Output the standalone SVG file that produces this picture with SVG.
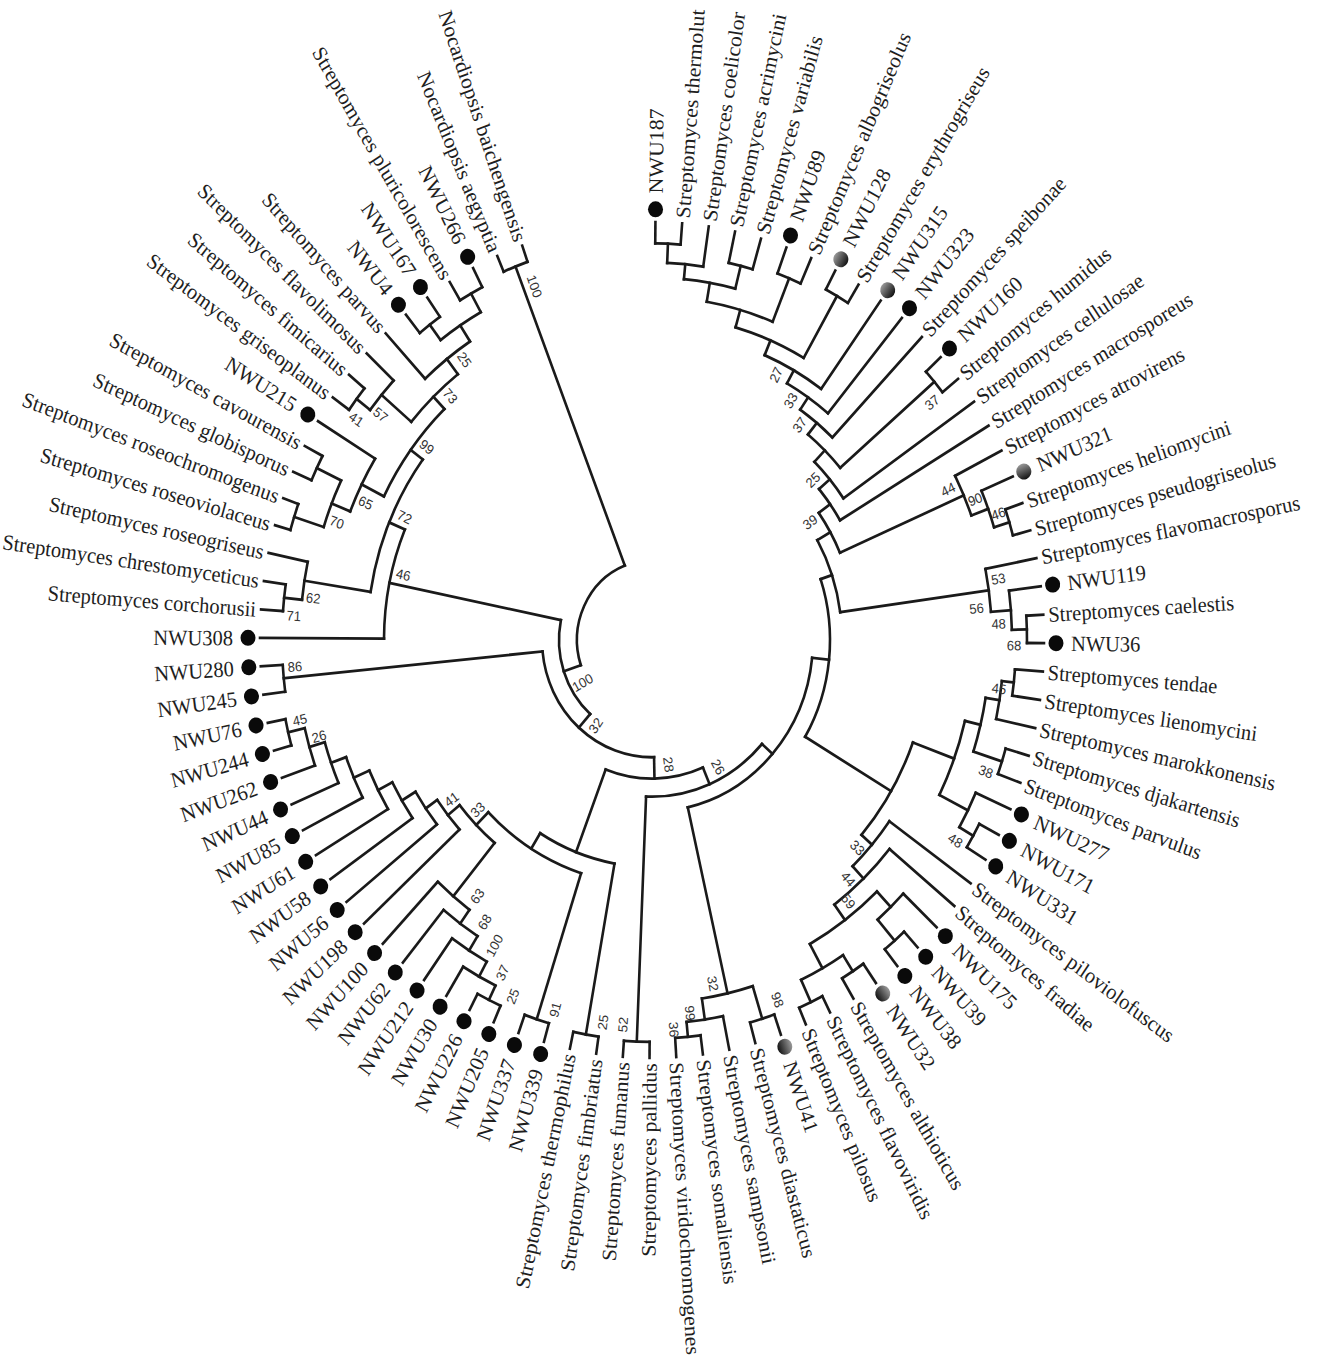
<svg xmlns="http://www.w3.org/2000/svg" width="1318" height="1366" viewBox="0 0 1318 1366">
<defs>
<linearGradient id="gr" x1="0" y1="0" x2="0" y2="1"><stop offset="0" stop-color="#9a9a9a"/><stop offset="0.5" stop-color="#555"/><stop offset="1" stop-color="#111"/></linearGradient>
</defs>
<style>
.b{fill:none;stroke:#1a1a1a;stroke-width:2.6;stroke-linecap:square}
.t{font-family:"Liberation Serif","Times New Roman",serif;font-size:20.5px;fill:#1e1e1e}
.e{text-anchor:end}
.s{font-family:"Liberation Sans",Arial,sans-serif;font-size:13px;fill:#333;text-anchor:middle}
.d{fill:#0a0a0a}
.g{fill:url(#gr)}
</style>
<rect width="1318" height="1366" fill="#fff"/>
<g transform="translate(652,640) scale(1,1.066)">
<g id="connectors" class="b">
<line x1="372" x2="392" transform="rotate(-89.5)"/><line x1="372" x2="392" transform="rotate(-85.59)"/>
<line x1="354" x2="372" transform="rotate(-87.545)"/><line x1="354" x2="392" transform="rotate(-81.68)"/>
<line x1="362" x2="392" transform="rotate(-77.77)"/><line x1="362" x2="392" transform="rotate(-73.86)"/>
<line x1="340" x2="354" transform="rotate(-84.61)"/><line x1="340" x2="362" transform="rotate(-75.815)"/>
<line x1="366" x2="392" transform="rotate(-69.95)"/><line x1="366" x2="392" transform="rotate(-66.04)"/>
<line x1="322" x2="340" transform="rotate(-80.21)"/><line x1="322" x2="366" transform="rotate(-67.995)"/>
<line x1="372" x2="392" transform="rotate(-62.13)"/><line x1="372" x2="392" transform="rotate(-58.22)"/>
<line x1="305" x2="322" transform="rotate(-74.1)"/><line x1="305" x2="372" transform="rotate(-60.175)"/>
<line x1="290" x2="305" transform="rotate(-67.14)"/><line x1="290" x2="392" transform="rotate(-54.31)"/>
<line x1="276" x2="290" transform="rotate(-60.72)"/><line x1="276" x2="392" transform="rotate(-50.4)"/>
<line x1="262" x2="276" transform="rotate(-55.56)"/><line x1="262" x2="392" transform="rotate(-46.49)"/>
<line x1="372" x2="392" transform="rotate(-42.58)"/><line x1="372" x2="392" transform="rotate(-38.67)"/>
<line x1="248" x2="262" transform="rotate(-51.03)"/><line x1="248" x2="372" transform="rotate(-40.63)"/>
<line x1="233" x2="248" transform="rotate(-45.83)"/><line x1="233" x2="392" transform="rotate(-34.76)"/>
<line x1="219" x2="233" transform="rotate(-40.3)"/><line x1="219" x2="392" transform="rotate(-30.85)"/>
<line x1="374" x2="392" transform="rotate(-19.12)"/><line x1="374" x2="392" transform="rotate(-15.21)"/>
<line x1="358" x2="392" transform="rotate(-23.03)"/><line x1="358" x2="374" transform="rotate(-17.165)"/>
<line x1="340" x2="392" transform="rotate(-26.94)"/><line x1="340" x2="358" transform="rotate(-20.1)"/>
<line x1="205" x2="219" transform="rotate(-35.57)"/><line x1="205" x2="340" transform="rotate(-23.52)"/>
<line x1="375" x2="392" transform="rotate(-3.48)"/><line x1="375" x2="392" transform="rotate(0.43)"/>
<line x1="360" x2="392" transform="rotate(-7.39)"/><line x1="360" x2="375" transform="rotate(-1.525)"/>
<line x1="340" x2="392" transform="rotate(-11.3)"/><line x1="340" x2="360" transform="rotate(-4.4575)"/>
<line x1="190" x2="205" transform="rotate(-29.545)"/><line x1="190" x2="340" transform="rotate(-7.879)"/>
<line x1="364" x2="392" transform="rotate(4.34)"/><line x1="364" x2="392" transform="rotate(8.25)"/>
<line x1="352" x2="364" transform="rotate(6.295)"/><line x1="352" x2="392" transform="rotate(12.16)"/>
<line x1="368" x2="392" transform="rotate(16.07)"/><line x1="368" x2="392" transform="rotate(19.98)"/>
<line x1="338" x2="352" transform="rotate(9.2275)"/><line x1="338" x2="368" transform="rotate(18.025)"/>
<line x1="370" x2="392" transform="rotate(27.8)"/><line x1="370" x2="392" transform="rotate(31.71)"/>
<line x1="354" x2="392" transform="rotate(23.89)"/><line x1="354" x2="370" transform="rotate(29.755)"/>
<line x1="322" x2="338" transform="rotate(13.626)"/><line x1="322" x2="354" transform="rotate(26.8225)"/>
<line x1="372" x2="392" transform="rotate(47.35)"/><line x1="372" x2="392" transform="rotate(51.26)"/>
<line x1="346" x2="392" transform="rotate(43.44)"/><line x1="346" x2="372" transform="rotate(49.305)"/>
<line x1="370" x2="392" transform="rotate(55.17)"/><line x1="370" x2="392" transform="rotate(59.08)"/>
<line x1="375" x2="392" transform="rotate(62.99)"/><line x1="375" x2="392" transform="rotate(66.9)"/>
<line x1="352" x2="370" transform="rotate(57.125)"/><line x1="352" x2="375" transform="rotate(64.945)"/>
<line x1="326" x2="346" transform="rotate(46.37)"/><line x1="326" x2="352" transform="rotate(61.035)"/>
<line x1="308" x2="392" transform="rotate(39.53)"/><line x1="308" x2="326" transform="rotate(53.7)"/>
<line x1="292" x2="392" transform="rotate(35.62)"/><line x1="292" x2="308" transform="rotate(46.615)"/>
<line x1="278" x2="322" transform="rotate(20.224)"/><line x1="278" x2="292" transform="rotate(41.12)"/>
<line x1="178" x2="190" transform="rotate(-18.71)"/><line x1="178" x2="278" transform="rotate(30.67)"/>
<line x1="374" x2="392" transform="rotate(82.54)"/><line x1="374" x2="392" transform="rotate(86.45)"/>
<line x1="360" x2="392" transform="rotate(78.63)"/><line x1="360" x2="374" transform="rotate(84.495)"/>
<line x1="372" x2="392" transform="rotate(70.81)"/><line x1="372" x2="392" transform="rotate(74.72)"/>
<line x1="340" x2="372" transform="rotate(72.765)"/><line x1="340" x2="360" transform="rotate(81.5625)"/>
<line x1="161" x2="178" transform="rotate(5.98)"/><line x1="161" x2="340" transform="rotate(77.16)"/>
<line x1="377" x2="392" transform="rotate(90.36)"/><line x1="377" x2="392" transform="rotate(94.27)"/>
<line x1="147" x2="161" transform="rotate(41.57)"/><line x1="147" x2="377" transform="rotate(92.315)"/>
<line x1="376" x2="392" transform="rotate(98.18)"/><line x1="376" x2="392" transform="rotate(102.09)"/>
<line x1="374" x2="392" transform="rotate(106)"/><line x1="374" x2="392" transform="rotate(109.91)"/>
<line x1="375" x2="392" transform="rotate(113.82)"/><line x1="375" x2="392" transform="rotate(117.73)"/>
<line x1="360" x2="375" transform="rotate(115.775)"/><line x1="360" x2="392" transform="rotate(121.64)"/>
<line x1="344" x2="360" transform="rotate(118.71)"/><line x1="344" x2="392" transform="rotate(125.55)"/>
<line x1="328" x2="344" transform="rotate(122.13)"/><line x1="328" x2="392" transform="rotate(129.46)"/>
<line x1="312" x2="328" transform="rotate(125.795)"/><line x1="312" x2="392" transform="rotate(133.37)"/>
<line x1="374" x2="392" transform="rotate(164.65)"/><line x1="374" x2="392" transform="rotate(168.56)"/>
<line x1="357" x2="392" transform="rotate(160.74)"/><line x1="357" x2="374" transform="rotate(166.605)"/>
<line x1="341" x2="392" transform="rotate(156.83)"/><line x1="341" x2="357" transform="rotate(163.67)"/>
<line x1="325" x2="392" transform="rotate(152.92)"/><line x1="325" x2="341" transform="rotate(160.25)"/>
<line x1="308" x2="392" transform="rotate(149.01)"/><line x1="308" x2="325" transform="rotate(156.585)"/>
<line x1="292" x2="392" transform="rotate(145.1)"/><line x1="292" x2="308" transform="rotate(152.8)"/>
<line x1="276" x2="392" transform="rotate(141.19)"/><line x1="276" x2="292" transform="rotate(148.95)"/>
<line x1="262" x2="392" transform="rotate(137.28)"/><line x1="262" x2="276" transform="rotate(145.07)"/>
<line x1="247" x2="312" transform="rotate(129.58)"/><line x1="247" x2="262" transform="rotate(141.175)"/>
<line x1="230" x2="374" transform="rotate(107.955)"/><line x1="230" x2="247" transform="rotate(135.38)"/>
<line x1="213" x2="376" transform="rotate(100.135)"/><line x1="213" x2="230" transform="rotate(121.67)"/>
<line x1="130" x2="147" transform="rotate(66.94)"/><line x1="130" x2="213" transform="rotate(110.9)"/>
<line x1="370" x2="392" transform="rotate(172.47)"/><line x1="370" x2="392" transform="rotate(176.38)"/>
<line x1="110" x2="130" transform="rotate(88.92)"/><line x1="110" x2="370" transform="rotate(174.425)"/>
<line x1="370" x2="392" transform="rotate(184.2)"/><line x1="370" x2="392" transform="rotate(188.11)"/>
<line x1="352" x2="370" transform="rotate(186.155)"/><line x1="352" x2="392" transform="rotate(192.02)"/>
<line x1="376" x2="392" transform="rotate(195.93)"/><line x1="376" x2="392" transform="rotate(199.84)"/>
<line x1="372" x2="392" transform="rotate(203.75)"/><line x1="372" x2="392" transform="rotate(207.66)"/>
<line x1="345" x2="376" transform="rotate(197.885)"/><line x1="345" x2="372" transform="rotate(205.705)"/>
<line x1="325" x2="345" transform="rotate(201.795)"/><line x1="325" x2="392" transform="rotate(211.57)"/>
<line x1="372" x2="392" transform="rotate(215.48)"/><line x1="372" x2="392" transform="rotate(219.39)"/>
<line x1="355" x2="372" transform="rotate(217.435)"/><line x1="355" x2="392" transform="rotate(223.3)"/>
<line x1="370" x2="392" transform="rotate(231.12)"/><line x1="370" x2="392" transform="rotate(235.03)"/>
<line x1="372" x2="392" transform="rotate(238.94)"/><line x1="372" x2="392" transform="rotate(242.85)"/>
<line x1="352" x2="370" transform="rotate(233.075)"/><line x1="352" x2="372" transform="rotate(240.895)"/>
<line x1="334" x2="392" transform="rotate(227.21)"/><line x1="334" x2="352" transform="rotate(236.985)"/>
<line x1="316" x2="355" transform="rotate(220.37)"/><line x1="316" x2="334" transform="rotate(232.1)"/>
<line x1="300" x2="325" transform="rotate(206.68)"/><line x1="300" x2="316" transform="rotate(226.235)"/>
<line x1="285" x2="352" transform="rotate(189.09)"/><line x1="285" x2="300" transform="rotate(216.46)"/>
<line x1="268" x2="392" transform="rotate(180.29)"/><line x1="268" x2="285" transform="rotate(202.775)"/>
<line x1="93" x2="110" transform="rotate(131.67)"/><line x1="93" x2="268" transform="rotate(191.53)"/>
<line x1="376" x2="392" transform="rotate(246.76)"/><line x1="376" x2="392" transform="rotate(250.67)"/>
<line x1="75" x2="93" transform="rotate(161.6)"/><line x1="75" x2="376" transform="rotate(248.715)"/>
<circle r="372" pathLength="360" stroke-dasharray="3.91 360" transform="rotate(-89.5)"/>
<circle r="354" pathLength="360" stroke-dasharray="5.865 360" transform="rotate(-87.545)"/>
<circle r="362" pathLength="360" stroke-dasharray="3.91 360" transform="rotate(-77.77)"/>
<circle r="340" pathLength="360" stroke-dasharray="8.795 360" transform="rotate(-84.61)"/>
<circle r="366" pathLength="360" stroke-dasharray="3.91 360" transform="rotate(-69.95)"/>
<circle r="322" pathLength="360" stroke-dasharray="12.215 360" transform="rotate(-80.21)"/>
<circle r="372" pathLength="360" stroke-dasharray="3.91 360" transform="rotate(-62.13)"/>
<circle r="305" pathLength="360" stroke-dasharray="13.925 360" transform="rotate(-74.1)"/>
<circle r="290" pathLength="360" stroke-dasharray="12.83 360" transform="rotate(-67.14)"/>
<circle r="276" pathLength="360" stroke-dasharray="10.32 360" transform="rotate(-60.72)"/>
<circle r="262" pathLength="360" stroke-dasharray="9.07 360" transform="rotate(-55.56)"/>
<circle r="372" pathLength="360" stroke-dasharray="3.91 360" transform="rotate(-42.58)"/>
<circle r="248" pathLength="360" stroke-dasharray="10.4 360" transform="rotate(-51.03)"/>
<circle r="233" pathLength="360" stroke-dasharray="11.07 360" transform="rotate(-45.83)"/>
<circle r="219" pathLength="360" stroke-dasharray="9.45 360" transform="rotate(-40.3)"/>
<circle r="374" pathLength="360" stroke-dasharray="3.91 360" transform="rotate(-19.12)"/>
<circle r="358" pathLength="360" stroke-dasharray="5.865 360" transform="rotate(-23.03)"/>
<circle r="340" pathLength="360" stroke-dasharray="6.84 360" transform="rotate(-26.94)"/>
<circle r="205" pathLength="360" stroke-dasharray="12.05 360" transform="rotate(-35.57)"/>
<circle r="375" pathLength="360" stroke-dasharray="3.91 360" transform="rotate(-3.48)"/>
<circle r="360" pathLength="360" stroke-dasharray="5.865 360" transform="rotate(-7.39)"/>
<circle r="340" pathLength="360" stroke-dasharray="6.8425 360" transform="rotate(-11.3)"/>
<circle r="190" pathLength="360" stroke-dasharray="21.666 360" transform="rotate(-29.545)"/>
<circle r="364" pathLength="360" stroke-dasharray="3.91 360" transform="rotate(4.34)"/>
<circle r="352" pathLength="360" stroke-dasharray="5.865 360" transform="rotate(6.295)"/>
<circle r="368" pathLength="360" stroke-dasharray="3.91 360" transform="rotate(16.07)"/>
<circle r="338" pathLength="360" stroke-dasharray="8.7975 360" transform="rotate(9.2275)"/>
<circle r="370" pathLength="360" stroke-dasharray="3.91 360" transform="rotate(27.8)"/>
<circle r="354" pathLength="360" stroke-dasharray="5.865 360" transform="rotate(23.89)"/>
<circle r="322" pathLength="360" stroke-dasharray="13.1965 360" transform="rotate(13.626)"/>
<circle r="372" pathLength="360" stroke-dasharray="3.91 360" transform="rotate(47.35)"/>
<circle r="346" pathLength="360" stroke-dasharray="5.865 360" transform="rotate(43.44)"/>
<circle r="370" pathLength="360" stroke-dasharray="3.91 360" transform="rotate(55.17)"/>
<circle r="375" pathLength="360" stroke-dasharray="3.91 360" transform="rotate(62.99)"/>
<circle r="352" pathLength="360" stroke-dasharray="7.82 360" transform="rotate(57.125)"/>
<circle r="326" pathLength="360" stroke-dasharray="14.665 360" transform="rotate(46.37)"/>
<circle r="308" pathLength="360" stroke-dasharray="14.17 360" transform="rotate(39.53)"/>
<circle r="292" pathLength="360" stroke-dasharray="10.995 360" transform="rotate(35.62)"/>
<circle r="278" pathLength="360" stroke-dasharray="20.896 360" transform="rotate(20.224)"/>
<circle r="178" pathLength="360" stroke-dasharray="49.38 360" transform="rotate(-18.71)"/>
<circle r="374" pathLength="360" stroke-dasharray="3.91 360" transform="rotate(82.54)"/>
<circle r="360" pathLength="360" stroke-dasharray="5.865 360" transform="rotate(78.63)"/>
<circle r="372" pathLength="360" stroke-dasharray="3.91 360" transform="rotate(70.81)"/>
<circle r="340" pathLength="360" stroke-dasharray="8.7975 360" transform="rotate(72.765)"/>
<circle r="161" pathLength="360" stroke-dasharray="71.18 360" transform="rotate(5.98)"/>
<circle r="377" pathLength="360" stroke-dasharray="3.91 360" transform="rotate(90.36)"/>
<circle r="147" pathLength="360" stroke-dasharray="50.745 360" transform="rotate(41.57)"/>
<circle r="376" pathLength="360" stroke-dasharray="3.91 360" transform="rotate(98.18)"/>
<circle r="374" pathLength="360" stroke-dasharray="3.91 360" transform="rotate(106)"/>
<circle r="375" pathLength="360" stroke-dasharray="3.91 360" transform="rotate(113.82)"/>
<circle r="360" pathLength="360" stroke-dasharray="5.865 360" transform="rotate(115.775)"/>
<circle r="344" pathLength="360" stroke-dasharray="6.84 360" transform="rotate(118.71)"/>
<circle r="328" pathLength="360" stroke-dasharray="7.33 360" transform="rotate(122.13)"/>
<circle r="312" pathLength="360" stroke-dasharray="7.575 360" transform="rotate(125.795)"/>
<circle r="374" pathLength="360" stroke-dasharray="3.91 360" transform="rotate(164.65)"/>
<circle r="357" pathLength="360" stroke-dasharray="5.865 360" transform="rotate(160.74)"/>
<circle r="341" pathLength="360" stroke-dasharray="6.84 360" transform="rotate(156.83)"/>
<circle r="325" pathLength="360" stroke-dasharray="7.33 360" transform="rotate(152.92)"/>
<circle r="308" pathLength="360" stroke-dasharray="7.575 360" transform="rotate(149.01)"/>
<circle r="292" pathLength="360" stroke-dasharray="7.7 360" transform="rotate(145.1)"/>
<circle r="276" pathLength="360" stroke-dasharray="7.76 360" transform="rotate(141.19)"/>
<circle r="262" pathLength="360" stroke-dasharray="7.79 360" transform="rotate(137.28)"/>
<circle r="247" pathLength="360" stroke-dasharray="11.595 360" transform="rotate(129.58)"/>
<circle r="230" pathLength="360" stroke-dasharray="27.425 360" transform="rotate(107.955)"/>
<circle r="213" pathLength="360" stroke-dasharray="21.535 360" transform="rotate(100.135)"/>
<circle r="130" pathLength="360" stroke-dasharray="43.96 360" transform="rotate(66.94)"/>
<circle r="370" pathLength="360" stroke-dasharray="3.91 360" transform="rotate(172.47)"/>
<circle r="110" pathLength="360" stroke-dasharray="85.505 360" transform="rotate(88.92)"/>
<circle r="370" pathLength="360" stroke-dasharray="3.91 360" transform="rotate(184.2)"/>
<circle r="352" pathLength="360" stroke-dasharray="5.865 360" transform="rotate(186.155)"/>
<circle r="376" pathLength="360" stroke-dasharray="3.91 360" transform="rotate(195.93)"/>
<circle r="372" pathLength="360" stroke-dasharray="3.91 360" transform="rotate(203.75)"/>
<circle r="345" pathLength="360" stroke-dasharray="7.82 360" transform="rotate(197.885)"/>
<circle r="325" pathLength="360" stroke-dasharray="9.775 360" transform="rotate(201.795)"/>
<circle r="372" pathLength="360" stroke-dasharray="3.91 360" transform="rotate(215.48)"/>
<circle r="355" pathLength="360" stroke-dasharray="5.865 360" transform="rotate(217.435)"/>
<circle r="370" pathLength="360" stroke-dasharray="3.91 360" transform="rotate(231.12)"/>
<circle r="372" pathLength="360" stroke-dasharray="3.91 360" transform="rotate(238.94)"/>
<circle r="352" pathLength="360" stroke-dasharray="7.82 360" transform="rotate(233.075)"/>
<circle r="334" pathLength="360" stroke-dasharray="9.775 360" transform="rotate(227.21)"/>
<circle r="316" pathLength="360" stroke-dasharray="11.73 360" transform="rotate(220.37)"/>
<circle r="300" pathLength="360" stroke-dasharray="19.555 360" transform="rotate(206.68)"/>
<circle r="285" pathLength="360" stroke-dasharray="27.37 360" transform="rotate(189.09)"/>
<circle r="268" pathLength="360" stroke-dasharray="22.485 360" transform="rotate(180.29)"/>
<circle r="93" pathLength="360" stroke-dasharray="59.86 360" transform="rotate(131.67)"/>
<circle r="376" pathLength="360" stroke-dasharray="3.91 360" transform="rotate(246.76)"/>
<circle r="75" pathLength="360" stroke-dasharray="87.115 360" transform="rotate(161.6)"/>
</g>
<g id="leaves">
<g id="leaf-NWU187"><circle class="d" cx="404" r="7.5" transform="rotate(-89.5)"/><text class="t" transform="rotate(-89.5) translate(419,0)" dy=".35em">NWU187</text></g>
<g id="leaf-thermolut"><text class="t" transform="rotate(-85.59) translate(397,0)" dy=".35em">Streptomyces thermolut</text></g>
<g id="leaf-coelicolor"><text class="t" transform="rotate(-81.68) translate(397,0)" dy=".35em">Streptomyces coelicolor</text></g>
<g id="leaf-acrimycini"><text class="t" transform="rotate(-77.77) translate(397,0)" dy=".35em">Streptomyces acrimycini</text></g>
<g id="leaf-variabilis"><text class="t" transform="rotate(-73.86) translate(397,0)" dy=".35em">Streptomyces variabilis</text></g>
<g id="leaf-NWU89"><circle class="d" cx="404" r="7.5" transform="rotate(-69.95)"/><text class="t" transform="rotate(-69.95) translate(419,0)" dy=".35em">NWU89</text></g>
<g id="leaf-albogriseolus"><text class="t" transform="rotate(-66.04) translate(397,0)" dy=".35em">Streptomyces albogriseolus</text></g>
<g id="leaf-NWU128"><circle class="g" cx="404" r="7.5" transform="rotate(-62.13)"/><text class="t" transform="rotate(-62.13) translate(419,0)" dy=".35em">NWU128</text></g>
<g id="leaf-erythrogriseus"><text class="t" transform="rotate(-58.22) translate(397,0)" dy=".35em">Streptomyces erythrogriseus</text></g>
<g id="leaf-NWU315"><circle class="g" cx="404" r="7.5" transform="rotate(-54.31)"/><text class="t" transform="rotate(-54.31) translate(419,0)" dy=".35em">NWU315</text></g>
<g id="leaf-NWU323"><circle class="d" cx="404" r="7.5" transform="rotate(-50.4)"/><text class="t" transform="rotate(-50.4) translate(419,0)" dy=".35em">NWU323</text></g>
<g id="leaf-speibonae"><text class="t" transform="rotate(-46.49) translate(397,0)" dy=".35em">Streptomyces speibonae</text></g>
<g id="leaf-NWU160"><circle class="d" cx="404" r="7.5" transform="rotate(-42.58)"/><text class="t" transform="rotate(-42.58) translate(419,0)" dy=".35em">NWU160</text></g>
<g id="leaf-humidus"><text class="t" transform="rotate(-38.67) translate(397,0)" dy=".35em">Streptomyces humidus</text></g>
<g id="leaf-cellulosae"><text class="t" transform="rotate(-34.76) translate(397,0)" dy=".35em">Streptomyces cellulosae</text></g>
<g id="leaf-macrosporeus"><text class="t" transform="rotate(-30.85) translate(397,0)" dy=".35em">Streptomyces macrosporeus</text></g>
<g id="leaf-atrovirens"><text class="t" transform="rotate(-26.94) translate(397,0)" dy=".35em">Streptomyces atrovirens</text></g>
<g id="leaf-NWU321"><circle class="g" cx="404" r="7.5" transform="rotate(-23.03)"/><text class="t" transform="rotate(-23.03) translate(419,0)" dy=".35em">NWU321</text></g>
<g id="leaf-heliomycini"><text class="t" transform="rotate(-19.12) translate(397,0)" dy=".35em">Streptomyces heliomycini</text></g>
<g id="leaf-pseudogriseolus"><text class="t" transform="rotate(-15.21) translate(397,0)" dy=".35em">Streptomyces pseudogriseolus</text></g>
<g id="leaf-flavomacrosporus"><text class="t" transform="rotate(-11.3) translate(397,0)" dy=".35em">Streptomyces flavomacrosporus</text></g>
<g id="leaf-NWU119"><circle class="d" cx="404" r="7.5" transform="rotate(-7.39)"/><text class="t" transform="rotate(-7.39) translate(419,0)" dy=".35em">NWU119</text></g>
<g id="leaf-caelestis"><text class="t" transform="rotate(-3.48) translate(397,0)" dy=".35em">Streptomyces caelestis</text></g>
<g id="leaf-NWU36"><circle class="d" cx="404" r="7.5" transform="rotate(0.43)"/><text class="t" transform="rotate(0.43) translate(419,0)" dy=".35em">NWU36</text></g>
<g id="leaf-tendae"><text class="t" transform="rotate(4.34) translate(397,0)" dy=".35em">Streptomyces tendae</text></g>
<g id="leaf-lienomycini"><text class="t" transform="rotate(8.25) translate(397,0)" dy=".35em">Streptomyces lienomycini</text></g>
<g id="leaf-marokkonensis"><text class="t" transform="rotate(12.16) translate(397,0)" dy=".35em">Streptomyces marokkonensis</text></g>
<g id="leaf-djakartensis"><text class="t" transform="rotate(16.07) translate(397,0)" dy=".35em">Streptomyces djakartensis</text></g>
<g id="leaf-parvulus"><text class="t" transform="rotate(19.98) translate(397,0)" dy=".35em">Streptomyces parvulus</text></g>
<g id="leaf-NWU277"><circle class="d" cx="404" r="7.5" transform="rotate(23.89)"/><text class="t" transform="rotate(23.89) translate(419,0)" dy=".35em">NWU277</text></g>
<g id="leaf-NWU171"><circle class="d" cx="404" r="7.5" transform="rotate(27.8)"/><text class="t" transform="rotate(27.8) translate(419,0)" dy=".35em">NWU171</text></g>
<g id="leaf-NWU331"><circle class="d" cx="404" r="7.5" transform="rotate(31.71)"/><text class="t" transform="rotate(31.71) translate(419,0)" dy=".35em">NWU331</text></g>
<g id="leaf-piloviolofuscus"><text class="t" transform="rotate(35.62) translate(397,0)" dy=".35em">Streptomyces piloviolofuscus</text></g>
<g id="leaf-fradiae"><text class="t" transform="rotate(39.53) translate(397,0)" dy=".35em">Streptomyces fradiae</text></g>
<g id="leaf-NWU175"><circle class="d" cx="404" r="7.5" transform="rotate(43.44)"/><text class="t" transform="rotate(43.44) translate(419,0)" dy=".35em">NWU175</text></g>
<g id="leaf-NWU39"><circle class="d" cx="404" r="7.5" transform="rotate(47.35)"/><text class="t" transform="rotate(47.35) translate(419,0)" dy=".35em">NWU39</text></g>
<g id="leaf-NWU38"><circle class="d" cx="404" r="7.5" transform="rotate(51.26)"/><text class="t" transform="rotate(51.26) translate(419,0)" dy=".35em">NWU38</text></g>
<g id="leaf-NWU32"><circle class="g" cx="404" r="7.5" transform="rotate(55.17)"/><text class="t" transform="rotate(55.17) translate(419,0)" dy=".35em">NWU32</text></g>
<g id="leaf-althioticus"><text class="t" transform="rotate(59.08) translate(397,0)" dy=".35em">Streptomyces althioticus</text></g>
<g id="leaf-flavoviridis"><text class="t" transform="rotate(62.99) translate(397,0)" dy=".35em">Streptomyces flavoviridis</text></g>
<g id="leaf-pilosus"><text class="t" transform="rotate(66.9) translate(397,0)" dy=".35em">Streptomyces pilosus</text></g>
<g id="leaf-NWU41"><circle class="g" cx="404" r="7.5" transform="rotate(70.81)"/><text class="t" transform="rotate(70.81) translate(419,0)" dy=".35em">NWU41</text></g>
<g id="leaf-diastaticus"><text class="t" transform="rotate(74.72) translate(397,0)" dy=".35em">Streptomyces diastaticus</text></g>
<g id="leaf-sampsonii"><text class="t" transform="rotate(78.63) translate(397,0)" dy=".35em">Streptomyces sampsonii</text></g>
<g id="leaf-somaliensis"><text class="t" transform="rotate(82.54) translate(397,0)" dy=".35em">Streptomyces somaliensis</text></g>
<g id="leaf-viridochromogenes"><text class="t" transform="rotate(86.45) translate(397,0)" dy=".35em">Streptomyces viridochromogenes</text></g>
<g id="leaf-pallidus"><text class="t e" transform="rotate(90.36) translate(397,0) rotate(180)" dy=".35em">Streptomyces pallidus</text></g>
<g id="leaf-fumanus"><text class="t e" transform="rotate(94.27) translate(397,0) rotate(180)" dy=".35em">Streptomyces fumanus</text></g>
<g id="leaf-fimbriatus"><text class="t e" transform="rotate(98.18) translate(397,0) rotate(180)" dy=".35em">Streptomyces fimbriatus</text></g>
<g id="leaf-thermophilus"><text class="t e" transform="rotate(102.09) translate(397,0) rotate(180)" dy=".35em">Streptomyces thermophilus</text></g>
<g id="leaf-NWU339"><circle class="d" cx="404" r="7.5" transform="rotate(106)"/><text class="t e" transform="rotate(106) translate(419,0) rotate(180)" dy=".35em">NWU339</text></g>
<g id="leaf-NWU337"><circle class="d" cx="404" r="7.5" transform="rotate(109.91)"/><text class="t e" transform="rotate(109.91) translate(419,0) rotate(180)" dy=".35em">NWU337</text></g>
<g id="leaf-NWU205"><circle class="d" cx="404" r="7.5" transform="rotate(113.82)"/><text class="t e" transform="rotate(113.82) translate(419,0) rotate(180)" dy=".35em">NWU205</text></g>
<g id="leaf-NWU226"><circle class="d" cx="404" r="7.5" transform="rotate(117.73)"/><text class="t e" transform="rotate(117.73) translate(419,0) rotate(180)" dy=".35em">NWU226</text></g>
<g id="leaf-NWU30"><circle class="d" cx="404" r="7.5" transform="rotate(121.64)"/><text class="t e" transform="rotate(121.64) translate(419,0) rotate(180)" dy=".35em">NWU30</text></g>
<g id="leaf-NWU212"><circle class="d" cx="404" r="7.5" transform="rotate(125.55)"/><text class="t e" transform="rotate(125.55) translate(419,0) rotate(180)" dy=".35em">NWU212</text></g>
<g id="leaf-NWU62"><circle class="d" cx="404" r="7.5" transform="rotate(129.46)"/><text class="t e" transform="rotate(129.46) translate(419,0) rotate(180)" dy=".35em">NWU62</text></g>
<g id="leaf-NWU100"><circle class="d" cx="404" r="7.5" transform="rotate(133.37)"/><text class="t e" transform="rotate(133.37) translate(419,0) rotate(180)" dy=".35em">NWU100</text></g>
<g id="leaf-NWU198"><circle class="d" cx="404" r="7.5" transform="rotate(137.28)"/><text class="t e" transform="rotate(137.28) translate(419,0) rotate(180)" dy=".35em">NWU198</text></g>
<g id="leaf-NWU56"><circle class="d" cx="404" r="7.5" transform="rotate(141.19)"/><text class="t e" transform="rotate(141.19) translate(419,0) rotate(180)" dy=".35em">NWU56</text></g>
<g id="leaf-NWU58"><circle class="d" cx="404" r="7.5" transform="rotate(145.1)"/><text class="t e" transform="rotate(145.1) translate(419,0) rotate(180)" dy=".35em">NWU58</text></g>
<g id="leaf-NWU61"><circle class="d" cx="404" r="7.5" transform="rotate(149.01)"/><text class="t e" transform="rotate(149.01) translate(419,0) rotate(180)" dy=".35em">NWU61</text></g>
<g id="leaf-NWU85"><circle class="d" cx="404" r="7.5" transform="rotate(152.92)"/><text class="t e" transform="rotate(152.92) translate(419,0) rotate(180)" dy=".35em">NWU85</text></g>
<g id="leaf-NWU44"><circle class="d" cx="404" r="7.5" transform="rotate(156.83)"/><text class="t e" transform="rotate(156.83) translate(419,0) rotate(180)" dy=".35em">NWU44</text></g>
<g id="leaf-NWU262"><circle class="d" cx="404" r="7.5" transform="rotate(160.74)"/><text class="t e" transform="rotate(160.74) translate(419,0) rotate(180)" dy=".35em">NWU262</text></g>
<g id="leaf-NWU244"><circle class="d" cx="404" r="7.5" transform="rotate(164.65)"/><text class="t e" transform="rotate(164.65) translate(419,0) rotate(180)" dy=".35em">NWU244</text></g>
<g id="leaf-NWU76"><circle class="d" cx="404" r="7.5" transform="rotate(168.56)"/><text class="t e" transform="rotate(168.56) translate(419,0) rotate(180)" dy=".35em">NWU76</text></g>
<g id="leaf-NWU245"><circle class="d" cx="404" r="7.5" transform="rotate(172.47)"/><text class="t e" transform="rotate(172.47) translate(419,0) rotate(180)" dy=".35em">NWU245</text></g>
<g id="leaf-NWU280"><circle class="d" cx="404" r="7.5" transform="rotate(176.38)"/><text class="t e" transform="rotate(176.38) translate(419,0) rotate(180)" dy=".35em">NWU280</text></g>
<g id="leaf-NWU308"><circle class="d" cx="404" r="7.5" transform="rotate(180.29)"/><text class="t e" transform="rotate(180.29) translate(419,0) rotate(180)" dy=".35em">NWU308</text></g>
<g id="leaf-corchorusii"><text class="t e" transform="rotate(184.2) translate(397,0) rotate(180)" dy=".35em">Streptomyces corchorusii</text></g>
<g id="leaf-chrestomyceticus"><text class="t e" transform="rotate(188.11) translate(397,0) rotate(180)" dy=".35em">Streptomyces chrestomyceticus</text></g>
<g id="leaf-roseogriseus"><text class="t e" transform="rotate(192.02) translate(397,0) rotate(180)" dy=".35em">Streptomyces roseogriseus</text></g>
<g id="leaf-roseoviolaceus"><text class="t e" transform="rotate(195.93) translate(397,0) rotate(180)" dy=".35em">Streptomyces roseoviolaceus</text></g>
<g id="leaf-roseochromogenus"><text class="t e" transform="rotate(199.84) translate(397,0) rotate(180)" dy=".35em">Streptomyces roseochromogenus</text></g>
<g id="leaf-globisporus"><text class="t e" transform="rotate(203.75) translate(397,0) rotate(180)" dy=".35em">Streptomyces globisporus</text></g>
<g id="leaf-cavourensis"><text class="t e" transform="rotate(207.66) translate(397,0) rotate(180)" dy=".35em">Streptomyces cavourensis</text></g>
<g id="leaf-NWU215"><circle class="d" cx="404" r="7.5" transform="rotate(211.57)"/><text class="t e" transform="rotate(211.57) translate(419,0) rotate(180)" dy=".35em">NWU215</text></g>
<g id="leaf-griseoplanus"><text class="t e" transform="rotate(215.48) translate(397,0) rotate(180)" dy=".35em">Streptomyces griseoplanus</text></g>
<g id="leaf-fimicarius"><text class="t e" transform="rotate(219.39) translate(397,0) rotate(180)" dy=".35em">Streptomyces fimicarius</text></g>
<g id="leaf-flavolimosus"><text class="t e" transform="rotate(223.3) translate(397,0) rotate(180)" dy=".35em">Streptomyces flavolimosus</text></g>
<g id="leaf-parvus"><text class="t e" transform="rotate(227.21) translate(397,0) rotate(180)" dy=".35em">Streptomyces parvus</text></g>
<g id="leaf-NWU4"><circle class="d" cx="404" r="7.5" transform="rotate(231.12)"/><text class="t e" transform="rotate(231.12) translate(419,0) rotate(180)" dy=".35em">NWU4</text></g>
<g id="leaf-NWU167"><circle class="d" cx="404" r="7.5" transform="rotate(235.03)"/><text class="t e" transform="rotate(235.03) translate(419,0) rotate(180)" dy=".35em">NWU167</text></g>
<g id="leaf-pluricolorescens"><text class="t e" transform="rotate(238.94) translate(397,0) rotate(180)" dy=".35em">Streptomyces pluricolorescens</text></g>
<g id="leaf-NWU266"><circle class="d" cx="404" r="7.5" transform="rotate(242.85)"/><text class="t e" transform="rotate(242.85) translate(419,0) rotate(180)" dy=".35em">NWU266</text></g>
<g id="leaf-aegyptia"><text class="t e" transform="rotate(246.76) translate(397,0) rotate(180)" dy=".35em">Nocardiopsis aegyptia</text></g>
<g id="leaf-baichengensis"><text class="t e" transform="rotate(250.67) translate(397,0) rotate(180)" dy=".35em">Nocardiopsis baichengensis</text></g>
</g>
<g id="support-values">
<text class="s" transform="rotate(-63.5) translate(278,0)" dy=".35em">27</text>
<text class="s" transform="rotate(-58.3) translate(264,0)" dy=".35em">33</text>
<text class="s" transform="rotate(-53.8) translate(250,0)" dy=".35em">37</text>
<text class="s" transform="rotate(-38.5) translate(358,0)" dy=".35em">37</text>
<text class="s" transform="rotate(-43) translate(220,0)" dy=".35em">25</text>
<text class="s" transform="rotate(-35) translate(193,0)" dy=".35em">39</text>
<text class="s" transform="rotate(-25.5) translate(328,0)" dy=".35em">44</text>
<text class="s" transform="rotate(-22.2) translate(349,0)" dy=".35em">90</text>
<text class="s" transform="rotate(-18.9) translate(366,0)" dy=".35em">46</text>
<text class="s" transform="rotate(-9.4) translate(351,0)" dy=".35em">53</text>
<text class="s" transform="rotate(-5.2) translate(326,0)" dy=".35em">56</text>
<text class="s" transform="rotate(-2.5) translate(347,0)" dy=".35em">48</text>
<text class="s" transform="rotate(0.8) translate(362,0)" dy=".35em">68</text>
<text class="s" transform="rotate(7.5) translate(350,0)" dy=".35em">45</text>
<text class="s" transform="rotate(20.3) translate(356,0)" dy=".35em">38</text>
<text class="s" transform="rotate(31.8) translate(357,0)" dy=".35em">48</text>
<text class="s" transform="rotate(43.5) translate(283,0)" dy=".35em">33</text>
<text class="s" transform="rotate(48.8) translate(298,0)" dy=".35em">44</text>
<text class="s" transform="rotate(51.3) translate(314,0)" dy=".35em">59</text>
<text class="s" transform="rotate(79.3) translate(328,0)" dy=".35em">32</text>
<text class="s" transform="rotate(83.8) translate(352,0)" dy=".35em">99</text>
<text class="s" transform="rotate(86.6) translate(366,0)" dy=".35em">36</text>
<text class="s" transform="rotate(69.6) translate(360,0)" dy=".35em">98</text>
<text class="s" transform="rotate(94.6) translate(362,0) rotate(180)" dy=".35em">52</text>
<text class="s" transform="rotate(97.8) translate(362,0) rotate(180)" dy=".35em">25</text>
<text class="s" transform="rotate(105.6) translate(360,0) rotate(180)" dy=".35em">91</text>
<text class="s" transform="rotate(61) translate(136,0)" dy=".35em">26</text>
<text class="s" transform="rotate(82) translate(118,0)" dy=".35em">28</text>
<text class="s" transform="rotate(112.6) translate(362,0) rotate(180)" dy=".35em">25</text>
<text class="s" transform="rotate(115.6) translate(346,0) rotate(180)" dy=".35em">37</text>
<text class="s" transform="rotate(118.8) translate(327,0) rotate(180)" dy=".35em">100</text>
<text class="s" transform="rotate(122.3) translate(313,0) rotate(180)" dy=".35em">68</text>
<text class="s" transform="rotate(126) translate(297,0) rotate(180)" dy=".35em">63</text>
<text class="s" transform="rotate(137.6) translate(236,0) rotate(180)" dy=".35em">33</text>
<text class="s" transform="rotate(143.3) translate(250,0) rotate(180)" dy=".35em">41</text>
<text class="s" transform="rotate(164.8) translate(345,0) rotate(180)" dy=".35em">26</text>
<text class="s" transform="rotate(168) translate(360,0) rotate(180)" dy=".35em">45</text>
<text class="s" transform="rotate(176) translate(358,0) rotate(180)" dy=".35em">86</text>
<text class="s" transform="rotate(125) translate(98,0) rotate(180)" dy=".35em">32</text>
<text class="s" transform="rotate(150) translate(80,0) rotate(180)" dy=".35em">100</text>
<text class="s" transform="rotate(193.8) translate(256,0) rotate(180)" dy=".35em">46</text>
<text class="s" transform="rotate(205) translate(273,0) rotate(180)" dy=".35em">72</text>
<text class="s" transform="rotate(218.8) translate(289,0) rotate(180)" dy=".35em">99</text>
<text class="s" transform="rotate(186.6) translate(341,0) rotate(180)" dy=".35em">62</text>
<text class="s" transform="rotate(183.6) translate(359,0) rotate(180)" dy=".35em">71</text>
<text class="s" transform="rotate(199.3) translate(334,0) rotate(180)" dy=".35em">70</text>
<text class="s" transform="rotate(204.2) translate(314,0) rotate(180)" dy=".35em">65</text>
<text class="s" transform="rotate(228.6) translate(305,0) rotate(180)" dy=".35em">73</text>
<text class="s" transform="rotate(217.9) translate(344,0) rotate(180)" dy=".35em">57</text>
<text class="s" transform="rotate(215) translate(361,0) rotate(180)" dy=".35em">41</text>
<text class="s" transform="rotate(234.5) translate(323,0) rotate(180)" dy=".35em">25</text>
<text class="s" transform="rotate(250.5) translate(352,0) rotate(180)" dy=".35em">100</text>
</g>
</g>
</svg>
